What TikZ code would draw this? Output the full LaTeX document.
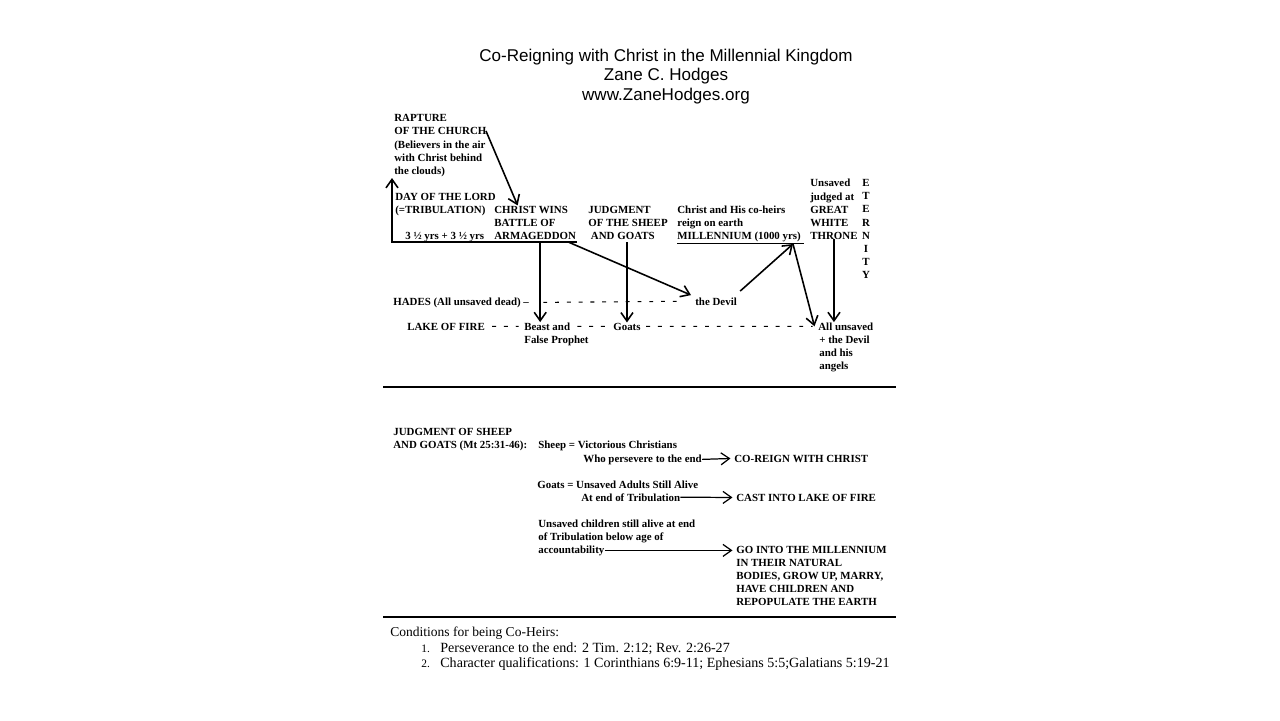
\documentclass[tikz,border=0pt]{standalone}
\usepackage{fontspec}
\setmainfont{Liberation Serif}
\newfontfamily\headfont{Liberation Sans}
\usetikzlibrary{arrows.meta}

\begin{document}
\begin{tikzpicture}[x=0.02cm,y=-0.02cm,>={Straight Barb[length=1.7mm,width=2.4mm]},lbl/.style={font=\bfseries\fontsize{6.2}{7.4}\selectfont, align=left, inner sep=0pt, anchor=base west},note/.style={font=\fontsize{7.7}{9}\selectfont, inner sep=0pt, anchor=base west},link/.style={->, line width=0.9pt},dashline/.style={line width=0.6pt, dash pattern=on 2.2pt off 4.5pt},rule/.style={line width=1.2pt}]
\fill[white] (0,0) rectangle (1280,720);
\node[font=\headfont\fontsize{9.7}{11}\selectfont, align=center, inner sep=0pt, anchor=base] (title) at (666,100) {Co-Reigning with Christ in the Millennial Kingdom\\Zane C. Hodges\\www.ZaneHodges.org};
\node[lbl] (rapture) at (394,174) {RAPTURE\\OF THE CHURCH\\(Believers in the air\\with Christ behind\\the clouds)};
\node[lbl] (dayoflord) at (395,213) {DAY OF THE LORD\\(=TRIBULATION)};
\node[lbl] (years) at (405,239) {3 ½ yrs + 3 ½ yrs};
\node[lbl] (armageddon) at (494,239) {CHRIST WINS\\BATTLE OF\\ARMAGEDDON};
\node[lbl] (judgment) at (588,239) {JUDGMENT\\OF THE SHEEP\\\hspace{1.5pt}AND GOATS};
\node[lbl] (millennium) at (677,239) {Christ and His co-heirs\\reign on earth\\\underline{MILLENNIUM (1000 yrs)\ }};
\node[lbl] (throne) at (810,239) {Unsaved\\judged at\\GREAT\\WHITE\\THRONE};
\node[lbl, align=center, anchor=base] (eternity) at (866,278) {E\\T\\E\\R\\N\\I\\T\\Y};
\node[lbl] (hades) at (393,305) {HADES (All unsaved dead) --};
\node[lbl] (devil) at (695,305) {the Devil};
\node[lbl] (lake) at (407,330) {LAKE OF FIRE};
\node[lbl] (beast) at (524,330) {Beast and};\node[lbl] (prophet) at (524,343) {False Prophet};
\node[lbl] (goats) at (613,330) {Goats};
\node[lbl] (allunsaved) at (818,330) {All unsaved};\node[lbl] (angels) at (819,369) {+ the Devil\\and his\\angels};
\coordinate (tstart) at (392,242);\coordinate (tend) at (577,242);\coordinate (ttop) at (392,178);
\coordinate (church) at (486,131);\coordinate (reign) at (793,244);
\draw[link] (tend) -- (tstart) -- (ttop);
\draw[link] (church) -- ([xshift=-10pt]armageddon.north);
\draw[link] ([xshift=-4pt]beast.north |- tstart) -- ([xshift=-4pt]beast.north);
\draw[link] (goats.north |- tstart) -- (goats.north);
\draw[link] ([xshift=-5pt]tend) -- ([shift={(-4,-2)}]devil.north west);
\draw[link] ([shift={(3,-6)}]devil.north east) -- (reign);
\draw[link] (reign) -- ([xshift=-2pt]allunsaved.west);
\draw[link] (throne.south) -- (throne.south |- allunsaved.north);
\draw[dashline] ([xshift=8pt]hades.east) -- ([xshift=-6pt]devil.west);
\draw[dashline] ([xshift=4pt]lake.east) -- ([xshift=-3pt]beast.west);
\draw[dashline] ([xshift=4pt]beast.east) -- ([xshift=-2pt]goats.west);
\draw[dashline] ([xshift=3pt]goats.east) -- ([xshift=-3pt]allunsaved.west);
\draw[rule] (383,387) -- (896,387);
\node[lbl] (sheepgoats) at (393,448) {JUDGMENT OF SHEEP\\AND GOATS (Mt 25:31-46):};
\node[lbl] (sheep) at (538,448) {Sheep = Victorious Christians};
\node[lbl] (persevere) at (583,462) {Who persevere to the end};
\node[lbl] (coreign) at (734,462) {CO-REIGN WITH CHRIST};
\node[lbl] (goatsdef) at (537,488) {Goats = Unsaved Adults Still Alive};
\node[lbl] (tribend) at (581,501) {At end of Tribulation};
\node[lbl] (cast) at (736,501) {CAST INTO LAKE OF FIRE};
\node[lbl] (children) at (538,540) {Unsaved children still alive at end\\of Tribulation below age of};
\node[lbl] (account) at (538,553) {accountability};
\node[lbl] (gointo) at (736,605) {GO INTO THE MILLENNIUM\\IN THEIR NATURAL\\BODIES, GROW UP, MARRY,\\HAVE CHILDREN AND\\REPOPULATE THE EARTH};
\draw[link, line width=0.7pt] (persevere.east) -- ([xshift=-2pt]coreign.west);
\draw[link, line width=0.7pt] (tribend.east) -- ([xshift=-2pt]cast.west);
\draw[link, line width=0.7pt] (account.east) -- ([xshift=-2pt]account.east -| gointo.west);
\draw[rule] (383,617) -- (896,617);
\node[note] (conditions) at (390,636) {Conditions for being Co-Heirs:};
\node[note, font=\fontsize{6.5}{8}\selectfont] (num1) at (421,652) {1.};\node[note, font=\fontsize{8}{9}\selectfont] (cond1) at (440,652) {Perseverance to the end: 2 Tim. 2:12; Rev. 2:26-27};
\node[note, font=\fontsize{6.5}{8}\selectfont] (num2) at (421,667) {2.};\node[note, font=\fontsize{8}{9}\selectfont] (cond2) at (440,667) {Character qualifications: 1 Corinthians 6:9-11; Ephesians 5:5;Galatians 5:19-21};
\end{tikzpicture}
\end{document}
